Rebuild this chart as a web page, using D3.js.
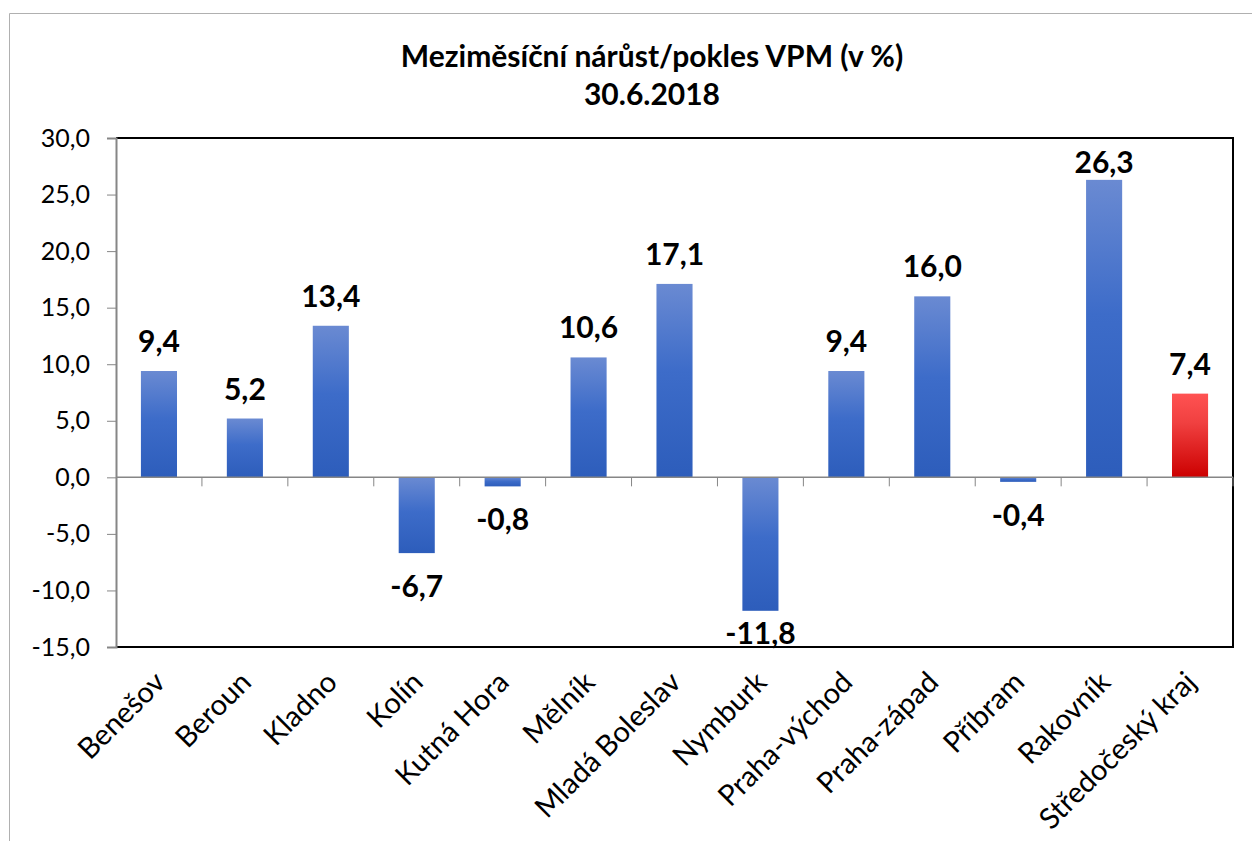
<!DOCTYPE html>
<html><head><meta charset="utf-8">
<script src="https://cdn.jsdelivr.net/npm/d3@7"></script>
<style>body{margin:0;background:#fff}svg{display:block}text{font-family:Lato,"Open Sans",sans-serif}</style>
</head><body>
<svg id="c" width="1252" height="841"></svg>
<script>
const categories = ["Benešov","Beroun","Kladno","Kolín","Kutná Hora","Mělník","Mladá Boleslav","Nymburk","Praha-východ","Praha-západ","Příbram","Rakovník","Středočeský kraj"];
const values = [9.4,5.2,13.4,-6.7,-0.8,10.6,17.1,-11.8,9.4,16.0,-0.4,26.3,7.4];
const highlight = [false,false,false,false,false,false,false,false,false,false,false,false,true];
const yTicks = [30,25,20,15,10,5,0,-5,-10,-15];
const titleLines = ["Meziměsíční nárůst/pokles VPM (v %)","30.6.2018"];

const svg = d3.select("#c");
const L=116, R=1233, T=138, B=647;
const fmt = v => d3.format(".1f")(v).replace(".",",").replace("−","-");

const defs = svg.append("defs");
const gb = defs.append("linearGradient").attr("id","gBlue").attr("x1",0).attr("y1",0).attr("x2",0).attr("y2",1);
gb.append("stop").attr("offset","0%").attr("stop-color","#6a8ad2");
gb.append("stop").attr("offset","45%").attr("stop-color","#3d6cc9");
gb.append("stop").attr("offset","100%").attr("stop-color","#2d5dbb");
const gr = defs.append("linearGradient").attr("id","gRed").attr("x1",0).attr("y1",0).attr("x2",0).attr("y2",1);
gr.append("stop").attr("offset","0%").attr("stop-color","#ff5252");
gr.append("stop").attr("offset","35%").attr("stop-color","#f04040");
gr.append("stop").attr("offset","100%").attr("stop-color","#cc0000");

// outer border
svg.append("path").attr("d","M9.5,841 V13.5 H1252").attr("fill","none").attr("stroke","#b0b0b0").attr("stroke-width",1);

const x = d3.scaleBand().domain(categories).range([L,R]).paddingInner(0.58).paddingOuter(0.29);
const y = d3.scaleLinear().domain([-15,30]).range([B,T]);

// plot border (top/right/bottom black)
svg.append("path").attr("d",`M${L},${T} H${R} V${B} H${L}`).attr("fill","none").attr("stroke","#000").attr("stroke-width",2);

// title
svg.selectAll("text.title").data(titleLines).join("text").attr("class","title")
  .attr("x",652).attr("y",(d,i)=>67+i*38).attr("text-anchor","middle")
  .attr("font-size",30).attr("font-weight","bold").attr("fill","#000").text(d=>d);

// bars
svg.selectAll("rect.bar").data(values).join("rect").attr("class","bar")
  .attr("x",(d,i)=>x(categories[i])).attr("width",x.bandwidth())
  .attr("y",d=>y(Math.max(0,d))).attr("height",d=>Math.abs(y(d)-y(0)))
  .attr("fill",(d,i)=>highlight[i]?"url(#gRed)":"url(#gBlue)");

// y axis
const ya = d3.axisLeft(y).tickValues(yTicks).tickFormat(fmt).tickSize(9).tickPadding(17);
const yg = svg.append("g").attr("transform",`translate(${L},0)`).call(ya);
yg.select(".domain").attr("stroke","#868686").attr("stroke-width",2);
yg.selectAll(".tick line").attr("stroke","#868686").attr("stroke-width",1);
yg.selectAll(".tick text").attr("font-size",25).attr("fill","#000").attr("font-family","Lato,'Open Sans',sans-serif");

// zero axis with category ticks
const boundaries = d3.range(categories.length+1).map(i=>L+i*(R-L)/categories.length);
svg.append("line").attr("x1",L).attr("x2",R).attr("y1",y(0)).attr("y2",y(0)).attr("stroke","#868686").attr("stroke-width",1.5);
svg.selectAll("line.ct").data(boundaries.slice(1)).join("line").attr("class","ct")
  .attr("x1",d=>d).attr("x2",d=>d).attr("y1",y(0)).attr("y2",y(0)+9).attr("stroke","#868686").attr("stroke-width",1);

// data labels (kept inside plot area)
svg.selectAll("text.lbl").data(values).join("text").attr("class","lbl")
  .attr("x",(d,i)=>x(categories[i])+x.bandwidth()/2)
  .attr("y",d=>d>=0 ? Math.max(y(d)-19, T+35) : Math.min(y(d)+44, B-3))
  .attr("text-anchor","middle").attr("font-size",30).attr("font-weight","bold").attr("fill","#000")
  .text(fmt);

// category labels
svg.selectAll("text.cat").data(categories).join("text").attr("class","cat")
  .attr("transform",d=>`translate(${x(d)+x.bandwidth()/2+8},${y(-15)+37}) rotate(-45)`)
  .attr("text-anchor","end").attr("font-size",29).attr("fill","#000").text(d=>d);
</script>
</body></html>
